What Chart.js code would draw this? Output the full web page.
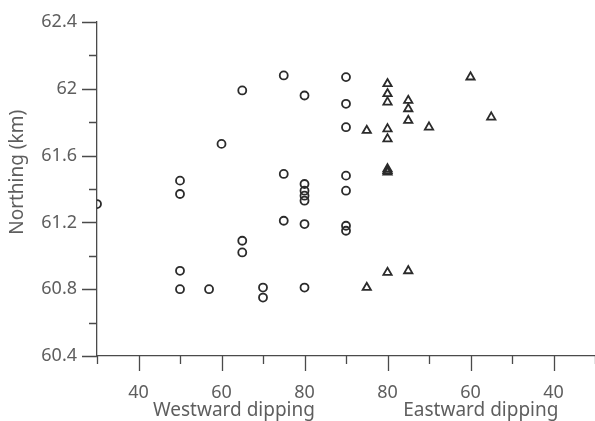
<!DOCTYPE html>
<html>
<head>
<meta charset="utf-8">
<title>Dip vs northing</title>
<script src="https://cdn.jsdelivr.net/npm/chart.js@4.4.1/dist/chart.umd.min.js"></script>
<style>
  html, body { margin: 0; padding: 0; background: #fff; }
  #wrap { width: 595px; height: 421px; }
</style>
</head>
<body>
<div id="wrap"><canvas id="dipChart"></canvas></div>
<script>
// Westward dipping planes (circles): dip angle and northing
const westDip = [30, 50, 50, 50, 50, 57, 60, 65, 65, 65, 70, 70, 75, 75, 75,
                 80, 80, 80, 80, 80, 80, 80, 90, 90, 90, 90, 90, 90, 90];
const westNorthing = [61.31, 61.45, 61.37, 60.91, 60.80, 60.80, 61.67, 61.99, 61.09, 61.02, 60.81, 60.75, 62.08, 61.49, 61.21,
                      61.96, 61.43, 61.39, 61.36, 61.33, 61.19, 60.81, 62.07, 61.91, 61.77, 61.48, 61.39, 61.18, 61.15];

// Eastward dipping planes (triangles)
const eastDip = [80, 80, 80, 80, 80, 80, 80, 80, 80, 85, 85, 75, 75, 75, 75, 70, 60, 55];
const eastNorthing = [62.03, 61.97, 61.92, 61.76, 61.70, 61.52, 61.51, 61.50, 60.90, 61.75, 60.81, 61.93, 61.88, 61.81, 60.91, 61.77, 62.07, 61.83];

// Axis text
const xMajorTicks = [40, 60, 80, 100, 120, 140];
const westTitle = 'Westward dipping';
const eastTitle = 'Eastward dipping';
const yTitle = 'Northing (km)';

// The x axis is folded at vertical (90): east dips are placed at 180 - dip
const foldX = (dip, side) => side === 'east' ? 180 - dip : dip;
const unfoldLabel = v => v <= 90 ? v : 180 - v;

const axisColor = '#4a4a4a';
const textColor = '#5e5e5e';
const markColor = '#2b2b2b';
const fontFamily = '"Noto Sans", "Open Sans", sans-serif';

const isMajorY = v => Math.round((v - 60.4) / 0.2) % 2 === 0;
const isMajorX = v => xMajorTicks.includes(Math.round(v));

// Custom tick marks (long major / short minor) and the axis captions
const axisDecor = {
  id: 'axisDecor',
  afterDraw(chart) {
    const { ctx, scales: { x, y } } = chart;
    ctx.save();
    ctx.strokeStyle = axisColor;
    ctx.lineWidth = 1.3;
    ctx.beginPath();
    x.ticks.forEach(t => {
      const px = Math.round(x.getPixelForValue(t.value)) + 0.5;
      const len = isMajorX(t.value) ? 15 : 8;
      ctx.moveTo(px, x.top);
      ctx.lineTo(px, x.top + len);
    });
    y.ticks.forEach(t => {
      const py = Math.round(y.getPixelForValue(t.value)) + 0.5;
      const len = isMajorY(t.value) ? 15 : 8;
      ctx.moveTo(y.right, py);
      ctx.lineTo(y.right - len, py);
    });
    ctx.stroke();

    ctx.fillStyle = textColor;
    ctx.font = '19px ' + fontFamily;
    ctx.textAlign = 'center';
    ctx.textBaseline = 'alphabetic';
    ctx.fillText(westTitle, x.getPixelForValue(63), 416);
    ctx.fillText(eastTitle, x.getPixelForValue(122.5), 416);

    // y caption, rotated, sitting a little above the axis middle
    ctx.translate(18, y.getPixelForValue(61.5));
    ctx.rotate(-Math.PI / 2);
    ctx.textBaseline = 'middle';
    ctx.fillText(yTitle, 0, 0);
    ctx.restore();
  }
};

new Chart(document.getElementById('dipChart'), {
  type: 'scatter',
  data: {
    datasets: [
      {
        label: 'Westward',
        data: westDip.map((d, i) => ({ x: foldX(d, 'west'), y: westNorthing[i] })),
        pointStyle: 'circle',
        pointRadius: 4,
        borderColor: markColor,
        backgroundColor: 'rgba(255,255,255,0)',
        borderWidth: 1.8
      },
      {
        label: 'Eastward',
        data: eastDip.map((d, i) => ({ x: foldX(d, 'east'), y: eastNorthing[i] })),
        pointStyle: 'triangle',
        pointRadius: 4.8,
        borderColor: markColor,
        backgroundColor: 'rgba(255,255,255,0)',
        borderWidth: 1.8
      }
    ]
  },
  options: {
    responsive: true,
    maintainAspectRatio: false,
    animation: false,
    layout: { autoPadding: false, padding: { top: 22, right: 0, bottom: 0, left: 0 } },
    plugins: {
      legend: { display: false },
      tooltip: { enabled: false }
    },
    scales: {
      x: {
        type: 'linear',
        min: 30,
        max: 150,
        afterFit: s => { s.height = 65; },
        ticks: {
          stepSize: 10,
          padding: 0,
          color: textColor,
          font: { family: fontFamily, size: 18 },
          maxRotation: 0,
          autoSkip: false,
          callback: v => (isMajorX(v) ? String(unfoldLabel(Math.round(v))) : '')
        },
        // tick marks themselves come from axisDecor; this only spaces the labels
        grid: { drawOnChartArea: false, drawTicks: true, tickLength: 26, tickColor: 'rgba(0,0,0,0)' },
        border: { display: true, color: axisColor, width: 1.3 }
      },
      y: {
        type: 'linear',
        min: 60.4,
        max: 62.4,
        afterFit: s => { s.width = 97; },
        ticks: {
          stepSize: 0.2,
          padding: 5,
          color: textColor,
          font: { family: fontFamily, size: 18 },
          autoSkip: false,
          callback: v => (isMajorY(v) ? String(Number(v.toFixed(1))) : '')
        },
        grid: { drawOnChartArea: false, drawTicks: true, tickLength: 15, tickColor: 'rgba(0,0,0,0)' },
        border: { display: true, color: axisColor, width: 1.3 }
      }
    }
  },
  plugins: [axisDecor]
});
</script>
</body>
</html>
